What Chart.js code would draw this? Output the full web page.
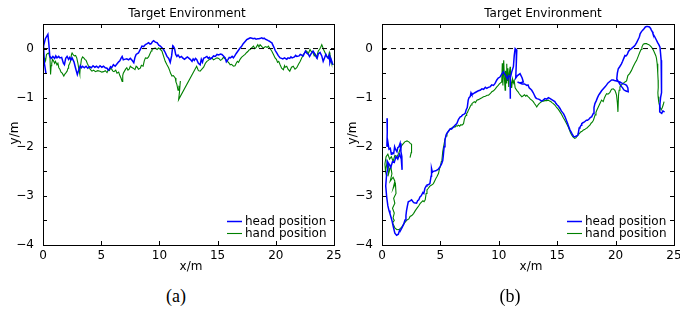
<!DOCTYPE html>
<html>
<head>
<meta charset="utf-8">
<script src="https://cdn.jsdelivr.net/npm/chart.js@4.4.0/dist/chart.umd.min.js"></script>
<style>
  body { margin: 0; width: 680px; height: 312px; overflow: hidden; background: #fff; position: relative; }
  canvas { position: absolute; top: 0; }
  #ca { left: 0; }
  #cb { left: 340px; }
  .cap { position: absolute; top: 286px; width: 60px; text-align: center; font: 18px "Liberation Serif", serif; color: #000; }
</style>
</head>
<body>
<canvas id="ca" width="350" height="280"></canvas>
<canvas id="cb" width="350" height="280"></canvas>
<div class="cap" style="left:146px">(a)</div>
<div class="cap" style="left:480px">(b)</div>
<script>
// (a) trajectories, [x, y] in metres
var headA = [[0.25,-0.5],[0.12,-0.3],[0.05,0.05],[0.2,0.2],[0.42,0.29],[0.5,0.1],[0.58,-0.15],[0.7,-0.2],[0.85,-0.16],[1.0,-0.2],[1.1,-0.15],[1.2,-0.19],[1.35,-0.16],[1.45,-0.19],[1.6,-0.18],[1.75,-0.3],[1.84,-0.33],[1.95,-0.2],[2.07,-0.16],[2.2,-0.22],[2.3,-0.18],[2.4,-0.23],[2.5,-0.19],[2.66,-0.27],[2.8,-0.4],[2.95,-0.53],[3.05,-0.45],[3.2,-0.35],[3.3,-0.39],[3.4,-0.36],[3.55,-0.39],[3.7,-0.36],[3.85,-0.4],[4.0,-0.37],[4.15,-0.39],[4.3,-0.35],[4.45,-0.38],[4.6,-0.36],[4.75,-0.39],[4.9,-0.35],[5.05,-0.38],[5.2,-0.36],[5.35,-0.39],[5.5,-0.4],[5.6,-0.44],[5.7,-0.42],[5.8,-0.37],[5.9,-0.39],[6.05,-0.33],[6.2,-0.36],[6.4,-0.3],[6.5,-0.27],[6.6,-0.25],[6.7,-0.2],[6.8,-0.16],[6.9,-0.23],[7.0,-0.22],[7.2,-0.21],[7.35,-0.23],[7.5,-0.2],[7.65,-0.24],[7.8,-0.29],[7.9,-0.18],[8.0,-0.12],[8.2,-0.09],[8.35,-0.02],[8.5,0.05],[8.65,0.04],[8.8,0.08],[8.95,0.1],[9.07,0.12],[9.2,0.09],[9.3,0.1],[9.4,0.14],[9.5,0.16],[9.65,0.13],[9.8,0.12],[9.95,0.07],[10.08,0.05],[10.2,0.02],[10.36,-0.02],[10.5,-0.08],[10.65,-0.16],[10.8,-0.2],[10.93,-0.28],[11.05,-0.15],[11.15,0.06],[11.2,0.05],[11.3,0.0],[11.4,-0.12],[11.5,-0.16],[11.6,-0.13],[11.75,-0.18],[11.9,-0.16],[12.0,-0.19],[12.15,-0.22],[12.25,-0.2],[12.4,-0.17],[12.5,-0.19],[12.65,-0.22],[12.8,-0.26],[12.9,-0.21],[13.0,-0.24],[13.1,-0.2],[13.2,-0.22],[13.35,-0.3],[13.5,-0.33],[13.6,-0.22],[13.7,-0.28],[13.8,-0.2],[13.95,-0.18],[14.08,-0.16],[14.2,-0.2],[14.3,-0.18],[14.4,-0.21],[14.5,-0.19],[14.65,-0.15],[14.8,-0.16],[14.95,-0.12],[15.1,-0.13],[15.25,-0.11],[15.37,-0.12],[15.5,-0.15],[15.65,-0.19],[15.75,-0.27],[15.9,-0.22],[16.0,-0.18],[16.1,-0.19],[16.25,-0.16],[16.36,-0.19],[16.5,-0.14],[16.6,-0.1],[16.75,-0.05],[16.93,0.01],[17.05,0.04],[17.2,0.1],[17.35,0.14],[17.5,0.18],[17.65,0.2],[17.8,0.22],[17.95,0.21],[18.05,0.2],[18.2,0.21],[18.3,0.19],[18.45,0.2],[18.55,0.2],[18.7,0.21],[18.8,0.22],[18.9,0.2],[19.0,0.21],[19.1,0.19],[19.2,0.18],[19.35,0.16],[19.45,0.15],[19.55,0.13],[19.65,0.12],[19.75,0.07],[19.85,0.02],[19.95,-0.04],[20.08,-0.09],[20.2,-0.14],[20.37,-0.19],[20.5,-0.2],[20.6,-0.21],[20.75,-0.19],[20.94,-0.22],[21.05,-0.19],[21.2,-0.2],[21.3,-0.17],[21.4,-0.19],[21.6,-0.17],[21.7,-0.14],[21.8,-0.16],[22.0,-0.15],[22.1,-0.12],[22.2,-0.13],[22.35,-0.15],[22.45,-0.1],[22.55,-0.05],[22.65,-0.09],[22.8,-0.12],[22.9,-0.16],[23.05,-0.1],[23.2,-0.05],[23.3,-0.09],[23.4,-0.14],[23.55,-0.2],[23.65,-0.11],[23.8,-0.08],[23.95,-0.15],[24.07,-0.26],[24.2,-0.18],[24.3,-0.12],[24.4,-0.17],[24.5,-0.2],[24.6,-0.14],[24.65,-0.29],[24.75,-0.22],[24.9,-0.33]];
var handA = [[0.0,-0.26],[0.08,-0.22],[0.15,-0.2],[0.22,-0.25],[0.3,-0.12],[0.4,-0.1],[0.5,-0.09],[0.6,-0.2],[0.65,-0.53],[0.7,-0.35],[0.75,-0.3],[0.82,-0.22],[0.9,-0.25],[1.0,-0.3],[1.07,-0.26],[1.2,-0.33],[1.28,-0.3],[1.36,-0.39],[1.45,-0.42],[1.55,-0.48],[1.65,-0.5],[1.79,-0.56],[1.88,-0.52],[1.95,-0.5],[2.07,-0.46],[2.15,-0.4],[2.2,-0.35],[2.3,-0.3],[2.36,-0.26],[2.45,-0.12],[2.5,-0.09],[2.6,-0.13],[2.7,-0.15],[2.8,-0.14],[2.9,-0.19],[3.0,-0.3],[3.1,-0.45],[3.16,-0.52],[3.2,-0.4],[3.3,-0.22],[3.4,-0.17],[3.5,-0.19],[3.6,-0.22],[3.7,-0.24],[3.8,-0.3],[3.9,-0.35],[4.05,-0.42],[4.2,-0.46],[4.35,-0.44],[4.5,-0.47],[4.7,-0.45],[4.9,-0.46],[5.05,-0.48],[5.2,-0.47],[5.35,-0.45],[5.5,-0.49],[5.6,-0.44],[5.7,-0.45],[5.8,-0.4],[5.9,-0.42],[6.0,-0.46],[6.1,-0.47],[6.25,-0.44],[6.36,-0.5],[6.5,-0.48],[6.6,-0.55],[6.7,-0.6],[6.8,-0.67],[6.85,-0.55],[6.9,-0.5],[7.0,-0.46],[7.1,-0.42],[7.2,-0.39],[7.3,-0.44],[7.4,-0.42],[7.5,-0.36],[7.6,-0.38],[7.75,-0.4],[7.9,-0.43],[8.0,-0.36],[8.1,-0.38],[8.2,-0.42],[8.36,-0.4],[8.45,-0.34],[8.6,-0.36],[8.7,-0.25],[8.8,-0.19],[8.95,-0.2],[9.07,-0.17],[9.2,-0.1],[9.3,-0.05],[9.36,-0.02],[9.5,0.0],[9.65,0.01],[9.8,-0.02],[9.93,0.01],[10.05,-0.01],[10.22,-0.05],[10.35,-0.15],[10.5,-0.26],[10.65,-0.33],[10.79,-0.39],[10.9,-0.46],[10.95,-0.5],[11.08,-0.56],[11.2,-0.55],[11.36,-0.6],[11.42,-0.68],[11.5,-0.73],[11.6,-0.85],[11.68,-0.78],[11.75,-0.8],[11.8,-0.66],[11.72,-0.9],[11.65,-1.04],[13.2,-0.36],[13.35,-0.45],[13.5,-0.46],[13.65,-0.42],[13.8,-0.38],[13.95,-0.3],[14.08,-0.26],[14.2,-0.24],[14.3,-0.22],[14.4,-0.2],[14.5,-0.19],[14.65,-0.23],[14.8,-0.21],[14.95,-0.19],[15.1,-0.2],[15.25,-0.24],[15.37,-0.22],[15.5,-0.18],[15.6,-0.2],[15.75,-0.23],[15.85,-0.26],[16.0,-0.3],[16.08,-0.33],[16.2,-0.32],[16.36,-0.36],[16.5,-0.35],[16.6,-0.3],[16.7,-0.26],[16.8,-0.28],[16.93,-0.22],[17.05,-0.18],[17.15,-0.16],[17.25,-0.14],[17.36,-0.12],[17.5,-0.08],[17.6,-0.06],[17.7,-0.03],[17.8,-0.02],[17.95,0.02],[18.08,0.05],[18.2,0.0],[18.3,0.02],[18.45,0.08],[18.55,0.03],[18.65,0.08],[18.8,0.04],[18.94,0.01],[19.05,0.03],[19.15,0.04],[19.25,0.02],[19.36,0.05],[19.5,0.0],[19.65,-0.05],[19.8,-0.12],[19.94,-0.19],[20.05,-0.22],[20.15,-0.28],[20.25,-0.26],[20.37,-0.33],[20.5,-0.4],[20.65,-0.43],[20.75,-0.35],[20.8,-0.38],[20.94,-0.36],[21.05,-0.42],[21.2,-0.46],[21.35,-0.38],[21.5,-0.36],[21.65,-0.42],[21.8,-0.39],[21.95,-0.32],[22.1,-0.26],[22.25,-0.18],[22.37,-0.12],[22.5,-0.08],[22.65,-0.05],[22.8,-0.1],[22.94,-0.02],[23.05,-0.06],[23.2,-0.08],[23.3,-0.15],[23.4,-0.12],[23.5,-0.18],[23.65,-0.05],[23.75,-0.02],[23.85,0.02],[23.95,0.08],[24.0,0.05],[24.1,-0.02],[24.22,-0.08],[24.35,-0.15],[24.5,-0.19],[24.6,-0.08],[24.65,-0.12],[24.75,-0.25],[24.8,-0.3],[24.95,-0.33]];

// (b) trajectories, [x, y] in metres
var headB = [[0.43,-1.42],[0.45,-1.7],[0.42,-2.0],[0.5,-1.9],[0.6,-2.05],[0.71,-2.03],[0.8,-2.15],[0.85,-2.12],[1.0,-2.14],[1.08,-2.0],[1.15,-2.05],[1.28,-2.1],[1.35,-2.02],[1.45,-2.0],[1.55,-1.93],[1.62,-2.1],[1.7,-2.2],[1.72,-2.47],[1.65,-2.25],[1.5,-2.15],[1.35,-2.25],[1.2,-2.2],[1.05,-2.32],[0.9,-2.3],[0.75,-2.42],[0.6,-2.35],[0.45,-2.3],[0.5,-2.45],[0.4,-2.54],[0.32,-2.8],[0.4,-3.02],[0.5,-3.2],[0.6,-3.3],[0.68,-3.36],[0.85,-3.5],[0.97,-3.63],[1.1,-3.76],[1.25,-3.8],[1.4,-3.78],[1.5,-3.7],[1.55,-3.72],[1.68,-3.66],[1.85,-3.58],[1.97,-3.49],[2.05,-3.4],[2.1,-3.3],[2.18,-3.2],[2.25,-3.12],[2.4,-3.1],[2.53,-3.08],[2.65,-3.12],[2.75,-3.14],[2.96,-3.15],[3.05,-3.1],[3.15,-3.08],[3.25,-3.02],[3.36,-3.0],[3.5,-2.93],[3.58,-2.95],[3.67,-2.85],[3.78,-2.8],[3.85,-2.78],[4.0,-2.77],[4.1,-2.75],[4.2,-2.6],[4.24,-2.44],[4.32,-2.52],[4.4,-2.5],[4.6,-2.49],[4.8,-2.46],[4.96,-2.41],[5.1,-2.35],[5.2,-2.28],[5.24,-2.2],[5.32,-2.0],[5.39,-1.86],[5.5,-1.75],[5.58,-1.72],[5.67,-1.69],[5.85,-1.63],[5.95,-1.64],[6.1,-1.6],[6.25,-1.56],[6.4,-1.53],[6.55,-1.44],[6.7,-1.39],[6.8,-1.38],[6.9,-1.35],[7.0,-1.34],[7.12,-1.32],[7.2,-1.25],[7.3,-1.2],[7.38,-1.05],[7.45,-1.0],[7.55,-0.98],[7.62,-0.9],[7.7,-0.94],[7.83,-0.92],[7.95,-0.9],[8.1,-0.88],[8.25,-0.86],[8.4,-0.85],[8.55,-0.82],[8.7,-0.83],[8.85,-0.79],[8.97,-0.81],[9.1,-0.79],[9.25,-0.78],[9.4,-0.74],[9.54,-0.75],[9.65,-0.72],[9.7,-0.7],[9.83,-0.64],[9.95,-0.6],[10.1,-0.58],[10.25,-0.52],[10.4,-0.47],[10.5,-0.52],[10.6,-0.55],[10.75,-0.62],[10.85,-0.55],[10.97,-0.58],[11.0,-1.02],[10.97,-0.6],[11.1,-0.48],[11.25,-0.37],[11.32,-0.15],[11.4,0.0],[11.54,-0.03],[11.5,-0.3],[11.45,-0.6],[11.6,-0.55],[11.82,-0.51],[12.0,-0.6],[12.1,-0.68],[11.8,-0.7],[11.6,-0.68],[12.0,-0.72],[12.2,-0.72],[12.4,-0.75],[12.5,-0.74],[12.6,-0.8],[12.7,-0.82],[12.82,-0.85],[12.95,-0.9],[13.05,-0.95],[13.15,-1.0],[13.25,-1.02],[13.4,-1.03],[13.5,-1.04],[13.65,-1.07],[13.8,-1.05],[13.95,-1.02],[14.1,-1.03],[14.25,-1.0],[14.4,-1.02],[14.6,-1.05],[14.8,-1.08],[14.9,-1.12],[15.0,-1.15],[15.1,-1.17],[15.24,-1.22],[15.35,-1.27],[15.45,-1.3],[15.55,-1.33],[15.67,-1.39],[15.8,-1.47],[15.9,-1.53],[16.0,-1.6],[16.1,-1.66],[16.2,-1.7],[16.3,-1.75],[16.4,-1.79],[16.5,-1.8],[16.65,-1.78],[16.75,-1.77],[16.8,-1.73],[16.88,-1.62],[16.95,-1.6],[17.05,-1.56],[17.1,-1.53],[17.2,-1.51],[17.3,-1.5],[17.4,-1.48],[17.5,-1.46],[17.6,-1.46],[17.75,-1.43],[17.85,-1.4],[17.95,-1.39],[18.09,-1.32],[18.15,-1.2],[18.23,-1.12],[18.35,-1.06],[18.45,-1.0],[18.55,-0.95],[18.66,-0.91],[18.8,-0.86],[18.95,-0.82],[19.1,-0.78],[19.23,-0.74],[19.35,-0.7],[19.45,-0.68],[19.55,-0.66],[19.66,-0.64],[19.8,-0.64],[19.9,-0.65],[20.09,-0.66],[20.2,-0.67],[20.37,-0.68],[20.5,-0.7],[20.66,-0.72],[20.8,-0.73],[20.94,-0.75],[21.05,-0.8],[21.08,-0.88],[20.95,-0.87],[20.85,-0.86],[20.7,-0.84],[20.6,-0.8],[20.45,-0.76],[20.3,-0.7],[20.1,-0.62],[20.15,-0.5],[20.23,-0.41],[20.35,-0.37],[20.5,-0.31],[20.6,-0.26],[20.7,-0.2],[20.8,-0.14],[20.9,-0.15],[21.0,-0.12],[21.1,-0.06],[21.2,-0.03],[21.35,0.0],[21.5,0.03],[21.6,0.05],[21.7,0.08],[21.8,0.12],[21.9,0.17],[22.0,0.22],[22.05,0.25],[22.1,0.3],[22.2,0.34],[22.3,0.37],[22.45,0.41],[22.55,0.44],[22.65,0.45],[22.75,0.45],[22.9,0.44],[23.0,0.41],[23.05,0.38],[23.15,0.34],[23.2,0.3],[23.35,0.24],[23.5,0.17],[23.6,0.12],[23.7,0.08],[23.8,0.03],[23.85,-0.1],[23.9,-0.24],[23.93,-0.38],[23.95,-0.5],[23.95,-0.65],[23.93,-0.78],[23.9,-0.9],[23.85,-1.0],[23.8,-1.12],[23.75,-1.25],[23.8,-1.29],[23.95,-1.32],[24.05,-1.27],[24.1,-1.28],[24.2,-1.29]];
var handB = [[2.4,-2.22],[2.5,-2.12],[2.56,-2.03],[2.5,-1.95],[2.42,-1.93],[2.3,-1.9],[2.14,-1.88],[1.95,-1.9],[1.7,-1.97],[1.55,-2.05],[1.42,-2.14],[1.3,-2.2],[1.1,-2.18],[0.95,-2.3],[0.8,-2.2],[0.65,-2.25],[0.5,-2.15],[0.35,-2.2],[0.25,-2.35],[0.3,-2.5],[0.45,-2.3],[0.6,-2.45],[0.5,-2.6],[0.75,-2.4],[0.85,-2.55],[0.7,-2.7],[0.95,-2.62],[1.1,-2.7],[0.95,-2.85],[1.15,-2.75],[1.2,-2.95],[1.0,-3.05],[1.1,-3.15],[0.9,-3.25],[1.05,-3.35],[0.95,-3.45],[1.05,-3.5],[0.9,-3.55],[1.0,-3.6],[1.1,-3.65],[1.28,-3.69],[1.5,-3.68],[1.7,-3.63],[1.9,-3.56],[2.14,-3.49],[2.3,-3.47],[2.4,-3.42],[2.55,-3.4],[2.7,-3.36],[2.85,-3.3],[3.0,-3.25],[3.15,-3.2],[3.28,-3.15],[3.4,-3.12],[3.5,-3.1],[3.6,-3.12],[3.7,-3.08],[3.78,-2.95],[3.85,-2.88],[3.95,-2.85],[4.1,-2.8],[4.25,-2.78],[4.4,-2.75],[4.5,-2.7],[4.6,-2.65],[4.72,-2.6],[4.84,-2.54],[4.92,-2.45],[5.0,-2.4],[5.08,-2.3],[5.13,-2.27],[5.2,-2.1],[5.27,-2.0],[5.35,-1.9],[5.4,-1.85],[5.48,-1.78],[5.56,-1.73],[5.7,-1.68],[5.8,-1.65],[5.95,-1.62],[6.13,-1.59],[6.25,-1.6],[6.35,-1.57],[6.45,-1.58],[6.55,-1.56],[6.65,-1.58],[6.75,-1.55],[6.85,-1.56],[6.98,-1.53],[7.05,-1.44],[7.12,-1.39],[7.2,-1.36],[7.25,-1.32],[7.32,-1.3],[7.4,-1.25],[7.48,-1.22],[7.55,-1.18],[7.62,-1.15],[7.7,-1.12],[7.8,-1.1],[7.9,-1.08],[8.0,-1.1],[8.12,-1.05],[8.25,-1.04],[8.4,-1.02],[8.55,-1.0],[8.69,-0.98],[8.85,-0.97],[9.0,-0.95],[9.12,-0.95],[9.26,-0.92],[9.4,-0.88],[9.55,-0.86],[9.7,-0.82],[9.83,-0.78],[9.95,-0.75],[10.05,-0.72],[10.15,-0.7],[10.25,-0.68],[10.3,-0.3],[10.35,-0.75],[10.42,-0.24],[10.48,-0.6],[10.54,-0.85],[10.58,-0.45],[10.62,-0.7],[10.68,-0.31],[10.72,-0.65],[10.78,-0.4],[10.85,-0.78],[10.9,-0.5],[10.97,-0.37],[11.0,-0.6],[11.05,-0.68],[11.1,-0.8],[11.18,-0.62],[11.25,-0.7],[11.32,-0.65],[11.4,-0.8],[11.54,-0.85],[11.65,-0.88],[11.75,-0.92],[11.85,-0.95],[11.97,-0.98],[12.1,-0.96],[12.2,-0.94],[12.3,-0.97],[12.4,-0.95],[12.5,-0.98],[12.6,-1.0],[12.7,-1.03],[12.82,-1.05],[12.95,-1.08],[13.05,-1.12],[13.15,-1.15],[13.25,-1.19],[13.35,-1.15],[13.45,-1.12],[13.55,-1.1],[13.68,-1.08],[13.8,-1.07],[13.95,-1.06],[14.1,-1.06],[14.24,-1.05],[14.35,-1.07],[14.45,-1.08],[14.55,-1.1],[14.67,-1.12],[14.8,-1.15],[14.95,-1.2],[15.1,-1.24],[15.24,-1.29],[15.35,-1.33],[15.5,-1.4],[15.65,-1.46],[15.81,-1.53],[15.95,-1.6],[16.05,-1.66],[16.15,-1.72],[16.24,-1.76],[16.35,-1.8],[16.5,-1.83],[16.6,-1.82],[16.65,-1.8],[16.8,-1.76],[16.9,-1.73],[17.0,-1.7],[17.1,-1.69],[17.24,-1.66],[17.35,-1.65],[17.45,-1.63],[17.55,-1.62],[17.66,-1.59],[17.8,-1.56],[17.9,-1.52],[18.0,-1.5],[18.1,-1.46],[18.18,-1.4],[18.25,-1.35],[18.32,-1.3],[18.4,-1.25],[18.5,-1.2],[18.6,-1.15],[18.7,-1.1],[18.8,-1.05],[18.94,-1.08],[19.05,-1.0],[19.15,-0.95],[19.23,-0.92],[19.35,-0.93],[19.5,-0.9],[19.58,-0.86],[19.66,-0.83],[19.8,-0.82],[19.94,-0.85],[20.02,-0.9],[20.08,-0.95],[20.15,-1.1],[20.2,-1.29],[20.25,-0.95],[20.3,-0.85],[20.37,-0.78],[20.5,-0.74],[20.65,-0.71],[20.8,-0.68],[20.94,-0.66],[21.05,-0.55],[21.2,-0.51],[21.35,-0.45],[21.5,-0.37],[21.65,-0.3],[21.8,-0.24],[21.95,-0.15],[22.08,-0.07],[22.18,-0.02],[22.25,0.03],[22.37,0.09],[22.5,0.1],[22.65,0.1],[22.75,0.09],[22.85,0.08],[22.95,0.06],[23.07,0.03],[23.15,0.0],[23.25,-0.04],[23.36,-0.1],[23.45,-0.15],[23.5,-0.2],[23.56,-0.31],[23.6,-0.4],[23.62,-0.5],[23.64,-0.64],[23.66,-0.72],[23.64,-0.8],[23.62,-0.9],[23.64,-0.98],[23.7,-1.1],[23.8,-1.19],[23.9,-1.25],[24.0,-1.2],[24.07,-1.15],[24.15,-1.08]];

// axes
var xLimits = [0, 25];
var yLimits = [-4, 0.5];
var xTicks = [0, 5, 10, 15, 20, 25];
var yTicks = [-4, -3.5, -3, -2.5, -2, -1.5, -1, -0.5, 0, 0.5];
var seriesNames = ['head position', 'hand position'];
var seriesColors = ['#0000ff', '#008000'];

var sans = '"DejaVu Sans", sans-serif';

function toPoints(pairs)
{
  return pairs.map(function(p) { return {x: p[0], y: p[1]}; });
}

function minusLabel(v)
{
  if (v < 0) return '\u2212' + Math.abs(v);
  return '' + v;
}

function printchart(id, head, hand, info)
{
  var decor = {
    id: 'decor',
    afterDatasetsDraw: function(chart) {
      var ctx = chart.ctx;
      var a = chart.chartArea;
      var xs = chart.scales.x, ys = chart.scales.y;
      ctx.save();
      ctx.strokeStyle = '#000';
      ctx.lineWidth = 1;
      ctx.strokeRect(Math.round(a.left) + 0.5, Math.round(a.top) + 0.5, Math.round(a.right - a.left), Math.round(a.bottom - a.top));
      // inward ticks, matlab style
      ctx.beginPath();
      yTicks.forEach(function(v) {
        if (v <= yLimits[0] || v >= yLimits[1]) return;
        var p = Math.round(ys.getPixelForValue(v)) + 0.5;
        ctx.moveTo(a.left, p); ctx.lineTo(a.left + 4, p);
        ctx.moveTo(a.right, p); ctx.lineTo(a.right - 4, p);
      });
      xTicks.forEach(function(v) {
        if (v <= xLimits[0] || v >= xLimits[1]) return;
        var p = Math.round(xs.getPixelForValue(v)) + 0.5;
        ctx.moveTo(p, a.bottom); ctx.lineTo(p, a.bottom - 4);
        ctx.moveTo(p, a.top); ctx.lineTo(p, a.top + 4);
      });
      ctx.stroke();

      // legend in the lower right corner
      ctx.font = '12px ' + sans;
      ctx.textBaseline = 'middle';
      ctx.textAlign = 'left';
      for (var i = 0; i < seriesNames.length; i++) {
        var yy = 221 + i * 12;
        ctx.strokeStyle = seriesColors[i];
        ctx.lineWidth = i == 0 ? 1.5 : 1.1;
        ctx.beginPath();
        ctx.moveTo(227, yy + 0.5); ctx.lineTo(242, yy + 0.5);
        ctx.stroke();
        ctx.fillStyle = '#000';
        ctx.fillText(seriesNames[i], 245, yy + 1);
      }

      // title and axis labels
      ctx.textAlign = 'center';
      ctx.fillText('Target Environment', info.titleX, 14);
      ctx.fillText('x/m', 191, 267);
      ctx.translate(info.yLabelX, 133);
      ctx.rotate(-Math.PI / 2);
      ctx.fillText('y/m', 0, 0);
      ctx.restore();
    }
  };

  new Chart(document.getElementById(id), {
    type: 'scatter',
    data: {
      datasets: [{
        label: 'zero',
        data: [{x: xLimits[0], y: 0}, {x: xLimits[1], y: 0}],
        showLine: true,
        borderColor: '#000',
        borderWidth: 1,
        borderDash: [5, 4],
        pointRadius: 0
      }, {
        label: seriesNames[0],
        data: toPoints(head),
        showLine: true,
        borderColor: seriesColors[0],
        borderWidth: 1.5,
        pointRadius: 0
      }, {
        label: seriesNames[1],
        data: toPoints(hand),
        showLine: true,
        borderColor: seriesColors[1],
        borderWidth: 1.1,
        pointRadius: 0
      }]
    },
    options: {
      responsive: false,
      animation: false,
      layout: { padding: { left: 0, top: 24, right: 16, bottom: 0 } },
      plugins: { legend: { display: false }, tooltip: { enabled: false } },
      scales: {
        x: {
          type: 'linear',
          min: xLimits[0],
          max: xLimits[1],
          grid: { display: false, drawTicks: false },
          border: { display: false },
          afterBuildTicks: function(s) { s.ticks = xTicks.map(function(v) { return {value: v}; }); },
          afterFit: function(s) { s.height = 35; },
          ticks: { color: '#000', padding: 4, maxRotation: 0, autoSkip: false, font: { family: sans, size: 12 }, callback: minusLabel }
        },
        y: {
          type: 'linear',
          min: yLimits[0],
          max: yLimits[1],
          grid: { display: false, drawTicks: false },
          border: { display: false },
          afterBuildTicks: function(s) { s.ticks = yTicks.map(function(v) { return {value: v}; }); },
          afterFit: function(s) { s.width = info.left; },
          ticks: {
            color: '#000', padding: 9, autoSkip: false, font: { family: sans, size: 12 },
            callback: function(v) { return Number.isInteger(v) ? minusLabel(v) : ''; }
          }
        }
      }
    },
    plugins: [decor]
  });
}

printchart('ca', headA, handA, {left: 43, titleX: 187, yLabelX: 15});
printchart('cb', headB, handB, {left: 42, titleX: 203, yLabelX: 13});
</script>
</body>
</html>
